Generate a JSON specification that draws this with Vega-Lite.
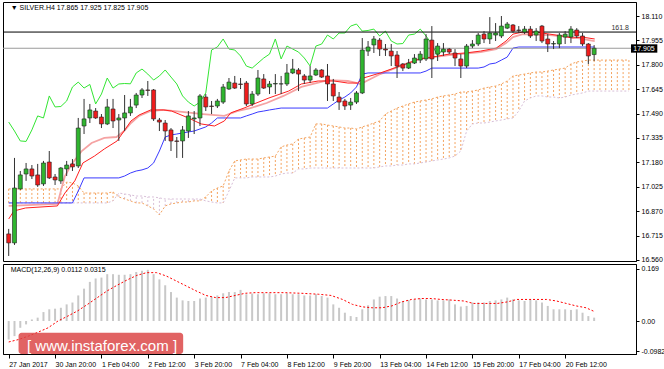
{
"$schema": "https://vega.github.io/schema/vega-lite/v6.json",
"background": "white",
"padding": {"left": 2, "top": 1, "right": 0, "bottom": 0},
"spacing": 3,
"bounds": "flush",
"config": {
  "view": {"stroke": "#000", "strokeWidth": 1},
  "font": "Liberation Sans",
  "axis": {"labelFont": "Liberation Sans", "labelFontSize": 7, "labelColor": "#000", "domainColor": "#000", "tickColor": "#000", "grid": false, "labelOverlap": false, "labelFlush": false, "tickCount": 30},
  "axisRight": {"tickSize": 3, "labelPadding": 2, "labelFlush": false, "labelOverlap": false},
  "axisBottom": {"tickSize": 4, "labelPadding": 2, "labelFlush": false, "labelOverlap": false, "labelAlign": "left"}
},
"datasets": {
"candles": [
{"i":0,"o":16.725,"h":16.757,"l":16.585,"c":16.668},
{"i":1,"o":16.668,"h":17.208,"l":16.655,"c":17.017},
{"i":2,"o":17.011,"h":17.125,"l":17.005,"c":17.100},
{"i":3,"o":17.106,"h":17.176,"l":17.062,"c":17.138},
{"i":4,"o":17.138,"h":17.163,"l":17.074,"c":17.093},
{"i":5,"o":17.100,"h":17.170,"l":17.024,"c":17.036},
{"i":6,"o":17.043,"h":17.189,"l":17.030,"c":17.176},
{"i":7,"o":17.182,"h":17.252,"l":17.074,"c":17.081},
{"i":8,"o":17.087,"h":17.106,"l":17.036,"c":17.068},
{"i":9,"o":17.062,"h":17.150,"l":17.043,"c":17.144},
{"i":10,"o":17.138,"h":17.189,"l":17.093,"c":17.163},
{"i":11,"o":17.170,"h":17.201,"l":17.125,"c":17.151},
{"i":12,"o":17.157,"h":17.462,"l":17.144,"c":17.398},
{"i":13,"o":17.411,"h":17.583,"l":17.360,"c":17.456},
{"i":14,"o":17.462,"h":17.551,"l":17.430,"c":17.513},
{"i":15,"o":17.506,"h":17.525,"l":17.456,"c":17.462},
{"i":16,"o":17.468,"h":17.487,"l":17.398,"c":17.424},
{"i":17,"o":17.424,"h":17.583,"l":17.417,"c":17.532},
{"i":18,"o":17.519,"h":17.583,"l":17.398,"c":17.443},
{"i":19,"o":17.449,"h":17.487,"l":17.316,"c":17.462},
{"i":20,"o":17.462,"h":17.608,"l":17.379,"c":17.494},
{"i":21,"o":17.494,"h":17.583,"l":17.475,"c":17.532},
{"i":22,"o":17.544,"h":17.621,"l":17.525,"c":17.608},
{"i":23,"o":17.608,"h":17.652,"l":17.589,"c":17.640},
{"i":24,"o":17.640,"h":17.697,"l":17.602,"c":17.637},
{"i":25,"o":17.640,"h":17.646,"l":17.443,"c":17.456},
{"i":26,"o":17.449,"h":17.462,"l":17.379,"c":17.436},
{"i":27,"o":17.430,"h":17.449,"l":17.316,"c":17.379},
{"i":28,"o":17.386,"h":17.398,"l":17.252,"c":17.316},
{"i":29,"o":17.316,"h":17.341,"l":17.208,"c":17.313},
{"i":30,"o":17.316,"h":17.411,"l":17.208,"c":17.386},
{"i":31,"o":17.379,"h":17.506,"l":17.335,"c":17.475},
{"i":32,"o":17.456,"h":17.506,"l":17.360,"c":17.462},
{"i":33,"o":17.462,"h":17.614,"l":17.411,"c":17.602},
{"i":34,"o":17.595,"h":17.614,"l":17.506,"c":17.532},
{"i":35,"o":17.538,"h":17.570,"l":17.487,"c":17.535},
{"i":36,"o":17.538,"h":17.583,"l":17.525,"c":17.570},
{"i":37,"o":17.563,"h":17.678,"l":17.551,"c":17.659},
{"i":38,"o":17.646,"h":17.716,"l":17.640,"c":17.690},
{"i":39,"o":17.684,"h":17.729,"l":17.646,"c":17.652},
{"i":40,"o":17.678,"h":17.716,"l":17.646,"c":17.675},
{"i":41,"o":17.684,"h":17.697,"l":17.538,"c":17.551},
{"i":42,"o":17.551,"h":17.633,"l":17.538,"c":17.614},
{"i":43,"o":17.614,"h":17.767,"l":17.602,"c":17.716},
{"i":44,"o":17.710,"h":17.741,"l":17.646,"c":17.652},
{"i":45,"o":17.659,"h":17.697,"l":17.614,"c":17.678},
{"i":46,"o":17.678,"h":17.741,"l":17.614,"c":17.681},
{"i":47,"o":17.678,"h":17.729,"l":17.614,"c":17.679},
{"i":48,"o":17.678,"h":17.805,"l":17.665,"c":17.748},
{"i":49,"o":17.748,"h":17.837,"l":17.741,"c":17.773},
{"i":50,"o":17.767,"h":17.779,"l":17.633,"c":17.741},
{"i":51,"o":17.729,"h":17.741,"l":17.678,"c":17.703},
{"i":52,"o":17.703,"h":17.792,"l":17.684,"c":17.729},
{"i":53,"o":17.735,"h":17.779,"l":17.729,"c":17.767},
{"i":54,"o":17.767,"h":17.773,"l":17.716,"c":17.722},
{"i":55,"o":17.729,"h":17.805,"l":17.570,"c":17.678},
{"i":56,"o":17.678,"h":17.710,"l":17.570,"c":17.602},
{"i":57,"o":17.595,"h":17.627,"l":17.513,"c":17.563},
{"i":58,"o":17.570,"h":17.583,"l":17.513,"c":17.538},
{"i":59,"o":17.544,"h":17.589,"l":17.513,"c":17.563},
{"i":60,"o":17.563,"h":17.633,"l":17.551,"c":17.621},
{"i":61,"o":17.621,"h":17.970,"l":17.614,"c":17.894},
{"i":62,"o":17.887,"h":17.951,"l":17.856,"c":17.913},
{"i":63,"o":17.926,"h":17.983,"l":17.875,"c":17.964},
{"i":64,"o":17.957,"h":17.970,"l":17.856,"c":17.900},
{"i":65,"o":17.900,"h":17.932,"l":17.856,"c":17.894},
{"i":66,"o":17.887,"h":17.932,"l":17.792,"c":17.856},
{"i":67,"o":17.862,"h":17.887,"l":17.716,"c":17.792},
{"i":68,"o":17.805,"h":17.811,"l":17.760,"c":17.779},
{"i":69,"o":17.779,"h":17.837,"l":17.773,"c":17.811},
{"i":70,"o":17.811,"h":17.868,"l":17.805,"c":17.843},
{"i":71,"o":17.830,"h":17.887,"l":17.811,"c":17.868},
{"i":72,"o":17.837,"h":17.995,"l":17.824,"c":17.964},
{"i":73,"o":17.957,"h":18.046,"l":17.716,"c":17.837},
{"i":74,"o":17.868,"h":17.938,"l":17.824,"c":17.919},
{"i":75,"o":17.881,"h":17.938,"l":17.856,"c":17.900},
{"i":76,"o":17.900,"h":17.906,"l":17.868,"c":17.881},
{"i":77,"o":17.875,"h":17.900,"l":17.792,"c":17.843},
{"i":78,"o":17.837,"h":17.868,"l":17.716,"c":17.792},
{"i":79,"o":17.792,"h":17.932,"l":17.779,"c":17.919},
{"i":80,"o":17.919,"h":17.957,"l":17.906,"c":17.932},
{"i":81,"o":17.932,"h":18.002,"l":17.919,"c":17.989},
{"i":82,"o":17.995,"h":18.014,"l":17.938,"c":17.964},
{"i":83,"o":17.964,"h":18.103,"l":17.932,"c":18.002},
{"i":84,"o":17.989,"h":18.065,"l":17.951,"c":18.002},
{"i":85,"o":17.983,"h":18.110,"l":17.970,"c":18.046},
{"i":86,"o":18.033,"h":18.072,"l":18.027,"c":18.059},
{"i":87,"o":18.053,"h":18.059,"l":18.002,"c":18.014},
{"i":88,"o":18.021,"h":18.046,"l":18.002,"c":18.018},
{"i":89,"o":18.008,"h":18.046,"l":17.995,"c":18.027},
{"i":90,"o":18.027,"h":18.046,"l":17.970,"c":17.983},
{"i":91,"o":17.989,"h":18.033,"l":17.951,"c":18.014},
{"i":92,"o":18.046,"h":18.053,"l":17.938,"c":17.951},
{"i":93,"o":17.964,"h":17.995,"l":17.881,"c":17.932},
{"i":94,"o":17.932,"h":17.951,"l":17.900,"c":17.935},
{"i":95,"o":17.932,"h":18.002,"l":17.906,"c":17.989},
{"i":96,"o":17.976,"h":18.014,"l":17.932,"c":17.995},
{"i":97,"o":17.976,"h":18.046,"l":17.938,"c":18.027},
{"i":98,"o":18.021,"h":18.033,"l":17.970,"c":17.983},
{"i":99,"o":17.983,"h":18.002,"l":17.919,"c":17.932},
{"i":100,"o":17.932,"h":17.938,"l":17.805,"c":17.856},
{"i":101,"o":17.865,"h":17.925,"l":17.825,"c":17.905}
],
"cloud": [
{"i":0,"a":17.011,"b":16.922},{"i":1,"a":17.011,"b":16.922},{"i":2,"a":17.011,"b":16.922},{"i":3,"a":17.011,"b":16.922},
{"i":4,"a":17.011,"b":16.922},{"i":5,"a":17.011,"b":16.922},{"i":6,"a":17.011,"b":16.922},{"i":7,"a":17.011,"b":16.922},
{"i":8,"a":17.011,"b":16.922},{"i":9,"a":17.011,"b":16.922},{"i":10,"a":17.055,"b":16.922},{"i":11,"a":17.049,"b":16.922},
{"i":12,"a":17.030,"b":16.922},{"i":13,"a":16.985,"b":16.922},{"i":14,"a":16.985,"b":16.922},{"i":15,"a":16.985,"b":16.922},
{"i":16,"a":16.985,"b":16.922},{"i":17,"a":16.985,"b":16.922},{"i":18,"a":16.992,"b":16.935},{"i":19,"a":16.960,"b":16.985},
{"i":20,"a":16.947,"b":16.979},{"i":21,"a":16.935,"b":16.973},{"i":22,"a":16.922,"b":16.966},{"i":23,"a":16.922,"b":16.966},
{"i":24,"a":16.903,"b":16.960},{"i":25,"a":16.884,"b":16.960},{"i":26,"a":16.846,"b":16.954},{"i":27,"a":16.903,"b":16.947},
{"i":28,"a":16.916,"b":16.947},{"i":29,"a":16.922,"b":16.947},{"i":30,"a":16.928,"b":16.947},{"i":31,"a":16.928,"b":16.947},
{"i":32,"a":16.935,"b":16.947},{"i":33,"a":16.935,"b":16.947},{"i":34,"a":16.960,"b":16.935},{"i":35,"a":16.998,"b":16.928},
{"i":36,"a":17.017,"b":16.922},{"i":37,"a":17.030,"b":16.922},{"i":38,"a":17.125,"b":16.998},{"i":39,"a":17.189,"b":17.081},
{"i":40,"a":17.195,"b":17.081},{"i":41,"a":17.201,"b":17.081},{"i":42,"a":17.201,"b":17.087},{"i":43,"a":17.201,"b":17.087},
{"i":44,"a":17.208,"b":17.087},{"i":45,"a":17.214,"b":17.087},{"i":46,"a":17.220,"b":17.093},{"i":47,"a":17.278,"b":17.106},
{"i":48,"a":17.290,"b":17.112},{"i":49,"a":17.297,"b":17.112},{"i":50,"a":17.328,"b":17.138},{"i":51,"a":17.335,"b":17.138},
{"i":52,"a":17.341,"b":17.144},{"i":53,"a":17.424,"b":17.144},{"i":54,"a":17.424,"b":17.144},{"i":55,"a":17.417,"b":17.144},
{"i":56,"a":17.411,"b":17.144},{"i":57,"a":17.405,"b":17.144},{"i":58,"a":17.398,"b":17.144},{"i":59,"a":17.398,"b":17.144},
{"i":60,"a":17.392,"b":17.144},{"i":61,"a":17.405,"b":17.144},{"i":62,"a":17.417,"b":17.144},{"i":63,"a":17.430,"b":17.144},
{"i":64,"a":17.443,"b":17.151},{"i":65,"a":17.487,"b":17.157},{"i":66,"a":17.506,"b":17.157},{"i":67,"a":17.525,"b":17.163},
{"i":68,"a":17.538,"b":17.163},{"i":69,"a":17.551,"b":17.170},{"i":70,"a":17.563,"b":17.170},{"i":71,"a":17.570,"b":17.176},
{"i":72,"a":17.576,"b":17.182},{"i":73,"a":17.583,"b":17.189},{"i":74,"a":17.595,"b":17.195},{"i":75,"a":17.602,"b":17.201},
{"i":76,"a":17.608,"b":17.208},{"i":77,"a":17.614,"b":17.220},{"i":78,"a":17.627,"b":17.252},{"i":79,"a":17.627,"b":17.379},
{"i":80,"a":17.633,"b":17.424},{"i":81,"a":17.640,"b":17.430},{"i":82,"a":17.652,"b":17.430},{"i":83,"a":17.659,"b":17.436},
{"i":84,"a":17.665,"b":17.443},{"i":85,"a":17.678,"b":17.449},{"i":86,"a":17.697,"b":17.456},{"i":87,"a":17.729,"b":17.462},
{"i":88,"a":17.735,"b":17.506},{"i":89,"a":17.741,"b":17.570},{"i":90,"a":17.748,"b":17.589},{"i":91,"a":17.754,"b":17.602},
{"i":92,"a":17.754,"b":17.602},{"i":93,"a":17.760,"b":17.595},{"i":94,"a":17.767,"b":17.595},{"i":95,"a":17.773,"b":17.589},
{"i":96,"a":17.779,"b":17.595},{"i":97,"a":17.805,"b":17.608},{"i":98,"a":17.818,"b":17.614},{"i":99,"a":17.824,"b":17.621},
{"i":100,"a":17.830,"b":17.633},{"i":101,"a":17.830,"b":17.633},{"i":102,"a":17.830,"b":17.633},{"i":103,"a":17.830,"b":17.633},
{"i":104,"a":17.830,"b":17.633},{"i":105,"a":17.830,"b":17.633},{"i":106,"a":17.830,"b":17.633},{"i":107,"a":17.830,"b":17.633}
],
"kijun": [
{"i":0,"v":16.922},{"i":11,"v":16.922},{"i":12,"v":16.998},{"i":13,"v":17.081},{"i":19,"v":17.081},{"i":20,"v":17.093},
{"i":21,"v":17.112},{"i":22,"v":17.125},{"i":23,"v":17.132},{"i":24,"v":17.144},{"i":25,"v":17.176},{"i":26,"v":17.252},
{"i":27,"v":17.341},{"i":28,"v":17.354},{"i":29,"v":17.360},{"i":30,"v":17.367},{"i":31,"v":17.373},{"i":32,"v":17.379},
{"i":33,"v":17.392},{"i":34,"v":17.405},{"i":35,"v":17.430},{"i":36,"v":17.462},{"i":40,"v":17.462},{"i":41,"v":17.475},
{"i":42,"v":17.487},{"i":43,"v":17.500},{"i":44,"v":17.506},{"i":45,"v":17.513},{"i":46,"v":17.519},{"i":47,"v":17.525},
{"i":55,"v":17.525},{"i":56,"v":17.551},{"i":57,"v":17.576},{"i":58,"v":17.595},{"i":59,"v":17.621},{"i":60,"v":17.659},
{"i":61,"v":17.741},{"i":62,"v":17.748},{"i":71,"v":17.748},{"i":72,"v":17.760},{"i":73,"v":17.779},{"i":81,"v":17.779},
{"i":82,"v":17.786},{"i":83,"v":17.805},{"i":84,"v":17.811},{"i":85,"v":17.830},{"i":86,"v":17.849},{"i":87,"v":17.906},
{"i":88,"v":17.913},{"i":101,"v":17.913}
],
"tenkan": [
{"i":0,"v":16.820},{"i":0.9,"v":16.871},{"i":2.9,"v":16.890},{"i":8.4,"v":16.903},{"i":9.7,"v":16.985},{"i":11.4,"v":17.062},
{"i":12.8,"v":17.176},{"i":14.8,"v":17.220},{"i":16.5,"v":17.265},{"i":18.7,"v":17.316},{"i":19.9,"v":17.379},{"i":21.1,"v":17.443},
{"i":22.5,"v":17.481},{"i":24.5,"v":17.513},{"i":26.7,"v":17.513},{"i":28.1,"v":17.506},{"i":31.0,"v":17.462},{"i":33.2,"v":17.424},
{"i":35.5,"v":17.411},{"i":37.2,"v":17.443},{"i":38.3,"v":17.494},{"i":40.6,"v":17.525},{"i":42.3,"v":17.551},{"i":44.9,"v":17.589},
{"i":48.3,"v":17.633},{"i":50.5,"v":17.678},{"i":53.4,"v":17.697},{"i":56.1,"v":17.697},{"i":58.5,"v":17.684},{"i":60.2,"v":17.684},
{"i":61.2,"v":17.716},{"i":64.1,"v":17.748},{"i":67.5,"v":17.792},{"i":70.9,"v":17.837},{"i":73.1,"v":17.849},{"i":76.0,"v":17.868},
{"i":78.8,"v":17.875},{"i":81.4,"v":17.887},{"i":84.1,"v":17.906},{"i":85.8,"v":17.951},{"i":87.0,"v":17.995},{"i":88.7,"v":18.008},
{"i":90.9,"v":18.008},{"i":93.3,"v":17.995},{"i":95.5,"v":17.983},{"i":97.2,"v":17.970},{"i":98.9,"v":17.976},{"i":101.1,"v":17.964}
],
"ma": [
{"i":0,"v":16.903},{"i":8.4,"v":16.916},{"i":9.7,"v":17.093},{"i":10.9,"v":17.170},{"i":12.6,"v":17.252},{"i":14.3,"v":17.303},
{"i":16.5,"v":17.335},{"i":18.6,"v":17.341},{"i":19.9,"v":17.379},{"i":21.1,"v":17.430},{"i":22.5,"v":17.475},{"i":24.5,"v":17.506},
{"i":26.7,"v":17.513},{"i":33.5,"v":17.487},{"i":37.2,"v":17.475},{"i":39.4,"v":17.506},{"i":41.7,"v":17.525},{"i":44.5,"v":17.557},
{"i":47.4,"v":17.602},{"i":50.5,"v":17.659},{"i":55.1,"v":17.703},{"i":58.5,"v":17.697},{"i":60.7,"v":17.678},{"i":64.1,"v":17.741},
{"i":67.5,"v":17.792},{"i":70.9,"v":17.837},{"i":76.0,"v":17.862},{"i":81.4,"v":17.881},{"i":84.1,"v":17.900},{"i":85.8,"v":17.938},
{"i":87.0,"v":17.976},{"i":88.7,"v":17.995},{"i":93.3,"v":17.989},{"i":97.2,"v":17.976},{"i":101.1,"v":17.951}
],
"chikou": [
{"i":0,"v":17.436},{"i":1,"v":17.379},{"i":2,"v":17.316},{"i":3,"v":17.313},{"i":4,"v":17.386},{"i":5,"v":17.475},
{"i":6,"v":17.462},{"i":7,"v":17.602},{"i":8,"v":17.532},{"i":9,"v":17.535},{"i":10,"v":17.570},{"i":11,"v":17.659},
{"i":12,"v":17.690},{"i":13,"v":17.652},{"i":14,"v":17.675},{"i":15,"v":17.551},{"i":16,"v":17.614},{"i":17,"v":17.716},
{"i":18,"v":17.652},{"i":19,"v":17.678},{"i":20,"v":17.681},{"i":21,"v":17.679},{"i":22,"v":17.748},{"i":23,"v":17.773},
{"i":24,"v":17.741},{"i":25,"v":17.703},{"i":26,"v":17.729},{"i":27,"v":17.767},{"i":28,"v":17.722},{"i":29,"v":17.678},
{"i":30,"v":17.602},{"i":31,"v":17.563},{"i":32,"v":17.538},{"i":33,"v":17.563},{"i":34,"v":17.621},{"i":35,"v":17.894},
{"i":36,"v":17.913},{"i":37,"v":17.964},{"i":38,"v":17.900},{"i":39,"v":17.894},{"i":40,"v":17.856},{"i":41,"v":17.792},
{"i":42,"v":17.779},{"i":43,"v":17.811},{"i":44,"v":17.843},{"i":45,"v":17.868},{"i":46,"v":17.964},{"i":47,"v":17.837},
{"i":48,"v":17.919},{"i":49,"v":17.900},{"i":50,"v":17.881},{"i":51,"v":17.843},{"i":52,"v":17.792},{"i":53,"v":17.919},
{"i":54,"v":17.932},{"i":55,"v":17.989},{"i":56,"v":17.964},{"i":57,"v":18.002},{"i":58,"v":18.002},{"i":59,"v":18.046},
{"i":60,"v":18.059},{"i":61,"v":18.014},{"i":62,"v":18.018},{"i":63,"v":18.027},{"i":64,"v":17.983},{"i":65,"v":18.014},
{"i":66,"v":17.951},{"i":67,"v":17.932},{"i":68,"v":17.935},{"i":69,"v":17.989},{"i":70,"v":17.995},{"i":71,"v":18.027},
{"i":72,"v":17.983},{"i":73,"v":17.932},{"i":74,"v":17.856},{"i":75,"v":17.905}
],
"levels": [{"v":18.008,"kind":"fibo"},{"v":17.905,"kind":"price"}],
"macd": [
{"i":0,"m":-0.060},{"i":1,"m":-0.049},{"i":2,"m":-0.022},{"i":3,"m":-0.011},{"i":4,"m":0.005},{"i":5,"m":0.011},
{"i":6,"m":0.029},{"i":7,"m":0.038},{"i":8,"m":0.040},{"i":9,"m":0.043},{"i":10,"m":0.054},{"i":11,"m":0.060},
{"i":12,"m":0.083},{"i":13,"m":0.105},{"i":14,"m":0.127},{"i":15,"m":0.138},{"i":16,"m":0.141},{"i":17,"m":0.152},
{"i":18,"m":0.152},{"i":19,"m":0.150},{"i":20,"m":0.150},{"i":21,"m":0.152},{"i":22,"m":0.159},{"i":23,"m":0.163},
{"i":24,"m":0.166},{"i":25,"m":0.152},{"i":26,"m":0.135},{"i":27,"m":0.116},{"i":28,"m":0.094},{"i":29,"m":0.076},
{"i":30,"m":0.067},{"i":31,"m":0.065},{"i":32,"m":0.065},{"i":33,"m":0.073},{"i":34,"m":0.076},{"i":35,"m":0.079},
{"i":36,"m":0.083},{"i":37,"m":0.090},{"i":38,"m":0.094},{"i":39,"m":0.094},{"i":40,"m":0.101},{"i":41,"m":0.087},
{"i":42,"m":0.089},{"i":43,"m":0.087},{"i":44,"m":0.090},{"i":45,"m":0.090},{"i":46,"m":0.087},{"i":47,"m":0.087},
{"i":48,"m":0.090},{"i":49,"m":0.087},{"i":50,"m":0.087},{"i":51,"m":0.083},{"i":52,"m":0.083},{"i":53,"m":0.087},
{"i":54,"m":0.081},{"i":55,"m":0.076},{"i":56,"m":0.054},{"i":57,"m":0.043},{"i":58,"m":0.027},{"i":59,"m":0.016},
{"i":60,"m":0.013},{"i":61,"m":0.038},{"i":62,"m":0.051},{"i":63,"m":0.070},{"i":64,"m":0.079},{"i":65,"m":0.081},
{"i":66,"m":0.081},{"i":67,"m":0.073},{"i":68,"m":0.065},{"i":69,"m":0.068},{"i":70,"m":0.070},{"i":71,"m":0.073},
{"i":72,"m":0.070},{"i":73,"m":0.070},{"i":74,"m":0.067},{"i":75,"m":0.067},{"i":76,"m":0.070},{"i":77,"m":0.054},
{"i":78,"m":0.047},{"i":79,"m":0.049},{"i":80,"m":0.060},{"i":81,"m":0.060},{"i":82,"m":0.060},{"i":83,"m":0.065},
{"i":84,"m":0.067},{"i":85,"m":0.070},{"i":86,"m":0.076},{"i":87,"m":0.070},{"i":88,"m":0.067},{"i":89,"m":0.065},
{"i":90,"m":0.070},{"i":91,"m":0.067},{"i":92,"m":0.060},{"i":93,"m":0.049},{"i":94,"m":0.038},{"i":95,"m":0.038},
{"i":96,"m":0.038},{"i":97,"m":0.036},{"i":98,"m":0.038},{"i":99,"m":0.027},{"i":100,"m":0.016},{"i":101,"m":0.011}
],
"signal": [
{"i":0,"v":-0.068},{"i":1.7,"v":-0.060},{"i":3.4,"v":-0.049},{"i":5.1,"v":-0.036},{"i":6.8,"v":-0.022},{"i":8.5,"v":0.0},
{"i":10.2,"v":0.016},{"i":11.9,"v":0.033},{"i":13.6,"v":0.054},{"i":15.3,"v":0.076},{"i":17.0,"v":0.098},{"i":18.7,"v":0.116},
{"i":20.4,"v":0.133},{"i":22.1,"v":0.148},{"i":23.8,"v":0.157},{"i":25.5,"v":0.157},{"i":27.2,"v":0.146},{"i":28.9,"v":0.130},
{"i":30.6,"v":0.114},{"i":32.3,"v":0.098},{"i":34.0,"v":0.083},{"i":35.7,"v":0.076},{"i":37.4,"v":0.076},{"i":39.1,"v":0.083},
{"i":40.8,"v":0.090},{"i":42.5,"v":0.092},{"i":44.9,"v":0.092},{"i":47.6,"v":0.092},{"i":50.5,"v":0.090},{"i":53.4,"v":0.087},
{"i":55.6,"v":0.083},{"i":57.6,"v":0.070},{"i":59.3,"v":0.054},{"i":61.0,"v":0.046},{"i":62.7,"v":0.043},{"i":64.4,"v":0.043},
{"i":66.1,"v":0.049},{"i":67.8,"v":0.062},{"i":69.5,"v":0.070},{"i":71.2,"v":0.073},{"i":72.9,"v":0.073},{"i":74.6,"v":0.070},
{"i":76.3,"v":0.068},{"i":78.5,"v":0.065},{"i":80.2,"v":0.057},{"i":81.9,"v":0.057},{"i":84.3,"v":0.057},{"i":86.0,"v":0.062},
{"i":87.7,"v":0.070},{"i":89.9,"v":0.070},{"i":92.8,"v":0.070},{"i":94.5,"v":0.065},{"i":96.2,"v":0.057},{"i":97.9,"v":0.049},
{"i":99.6,"v":0.043},{"i":100.9,"v":0.032}
]
},
"vconcat": [
{
 "width": 633, "height": 259,
 "layer": [
  {"data": {"name": "cloud"}, "mark": {"type": "rule", "strokeDash": [2, 2], "strokeWidth": 1},
   "encoding": {
    "x": {"field": "i", "type": "quantitative", "scale": {"domain": [-0.12, 107.36], "nice": false, "zero": false}, "axis": null},
    "y": {"field": "a", "type": "quantitative", "scale": {"domain": [16.553, 18.199], "nice": false, "zero": false},
          "axis": {"orient": "right", "title": null, "values": [16.56, 16.715, 16.87, 17.025, 17.18, 17.335, 17.49, 17.645, 17.8, 17.955, 18.11], "format": ".3f", "tickCount": 30, "labelOverlap": false, "labelFlush": false}},
    "y2": {"field": "b"},
    "color": {"condition": {"test": "datum.a >= datum.b", "value": "#f4a460"}, "value": "#d8bfd8"}
   }},
  {"data": {"name": "cloud"}, "mark": {"type": "line", "color": "#f4a460", "strokeDash": [2, 2], "strokeWidth": 1},
   "encoding": {
    "x": {"field": "i", "type": "quantitative", "axis": null},
    "y": {"field": "a", "type": "quantitative", "axis": {"orient": "right", "title": null, "tickCount": 30}}}},
  {"data": {"name": "cloud"}, "mark": {"type": "line", "color": "#d8bfd8", "strokeDash": [2, 2], "strokeWidth": 1},
   "encoding": {
    "x": {"field": "i", "type": "quantitative", "axis": null},
    "y": {"field": "b", "type": "quantitative", "axis": {"orient": "right", "title": null, "tickCount": 30}}}},
  {"data": {"name": "chikou"}, "mark": {"type": "line", "color": "#33e633", "strokeWidth": 1},
   "encoding": {
    "x": {"field": "i", "type": "quantitative", "axis": null},
    "y": {"field": "v", "type": "quantitative", "axis": {"orient": "right", "title": null, "tickCount": 30}}}},
  {"data": {"name": "ma"}, "mark": {"type": "line", "color": "#f5a3a3", "strokeWidth": 1.8},
   "encoding": {
    "x": {"field": "i", "type": "quantitative", "axis": null},
    "y": {"field": "v", "type": "quantitative", "axis": {"orient": "right", "title": null, "tickCount": 30}}}},
  {"data": {"name": "kijun"}, "mark": {"type": "line", "color": "#3a3aff", "strokeWidth": 1},
   "encoding": {
    "x": {"field": "i", "type": "quantitative", "axis": null},
    "y": {"field": "v", "type": "quantitative", "axis": {"orient": "right", "title": null, "tickCount": 30}}}},
  {"data": {"name": "tenkan"}, "mark": {"type": "line", "color": "#ff2020", "strokeWidth": 1},
   "encoding": {
    "x": {"field": "i", "type": "quantitative", "axis": null},
    "y": {"field": "v", "type": "quantitative", "axis": {"orient": "right", "title": null, "tickCount": 30}}}},
  {"data": {"name": "levels"}, "mark": {"type": "rule", "strokeWidth": 1},
   "encoding": {
    "y": {"field": "v", "type": "quantitative", "axis": {"orient": "right", "title": null, "tickCount": 30}},
    "color": {"condition": {"test": "datum.kind == 'fibo'", "value": "#000000"}, "value": "#9a9a9a"}}},
  {"data": {"name": "candles"}, "mark": {"type": "rule", "color": "#333333", "strokeWidth": 1},
   "encoding": {
    "x": {"field": "i", "type": "quantitative", "axis": null},
    "y": {"field": "l", "type": "quantitative", "axis": {"orient": "right", "title": null, "tickCount": 30}},
    "y2": {"field": "h"}}},
  {"data": {"name": "candles"}, "mark": {"type": "bar", "orient": "vertical", "width": 4, "stroke": "#222222", "strokeWidth": 0.6},
   "encoding": {
    "x": {"field": "i", "type": "quantitative", "axis": null},
    "y": {"field": "o", "type": "quantitative", "axis": {"orient": "right", "title": null, "tickCount": 30}},
    "y2": {"field": "c"},
    "fill": {"condition": {"test": "datum.c >= datum.o", "value": "#2fb52f"}, "value": "#f01c1c"}}},
  {"data": {"values": [{"t": "▼ SILVER.H4  17.865 17.925 17.825 17.905"}]},
   "mark": {"type": "text", "align": "left", "baseline": "middle", "fontSize": 7, "font": "Liberation Sans", "color": "#000"},
   "encoding": {
    "x": {"datum": 0.35, "type": "quantitative", "axis": null},
    "y": {"datum": 18.161, "type": "quantitative", "axis": {"orient": "right", "title": null, "tickCount": 30}},
    "text": {"field": "t"}}},
  {"data": {"values": [{"t": "161.8"}]},
   "mark": {"type": "text", "align": "right", "baseline": "middle", "fontSize": 7, "font": "Liberation Sans", "color": "#333"},
   "encoding": {
    "x": {"datum": 107.0, "type": "quantitative", "axis": null},
    "y": {"datum": 18.035, "type": "quantitative", "axis": {"orient": "right", "title": null, "tickCount": 30}},
    "text": {"field": "t"}}},
  {"data": {"values": [{"t": "17.905"}]},
   "mark": {"type": "rect", "color": "#000000"},
   "encoding": {
    "x": {"datum": 107.36, "type": "quantitative", "axis": null},
    "x2": {"datum": 111.9},
    "y": {"datum": 17.930, "type": "quantitative", "axis": {"orient": "right", "title": null, "tickCount": 30}},
    "y2": {"datum": 17.877}}},
  {"data": {"values": [{"t": "17.905"}]},
   "mark": {"type": "text", "align": "left", "baseline": "middle", "fontSize": 7, "font": "Liberation Sans", "color": "#ffffff"},
   "encoding": {
    "x": {"datum": 107.75, "type": "quantitative", "axis": null},
    "y": {"datum": 17.903, "type": "quantitative", "axis": {"orient": "right", "title": null, "tickCount": 30}},
    "text": {"field": "t"}}}
 ]
},
{
 "width": 633, "height": 90,
 "layer": [
  {"data": {"name": "macd"}, "mark": {"type": "bar", "orient": "vertical", "width": 2, "color": "#c8c8c8"},
   "encoding": {
    "x": {"field": "i", "type": "quantitative", "scale": {"domain": [-0.12, 107.36], "nice": false, "zero": false},
          "axis": {"orient": "bottom", "title": null, "values": [0, 8, 16, 24, 32, 40, 48, 56, 64, 72, 80, 88, 96], "tickCount": 30, "labelOverlap": false,
                   "labelExpr": "['27 Jan 2017','30 Jan 20:00','1 Feb 04:00','2 Feb 12:00','3 Feb 20:00','7 Feb 04:00','8 Feb 12:00','9 Feb 20:00','13 Feb 04:00','14 Feb 12:00','15 Feb 20:00','17 Feb 04:00','20 Feb 12:00'][round(datum.value/8)]"}},
    "y": {"field": "m", "type": "quantitative", "scale": {"domain": [-0.107, 0.185], "nice": false, "zero": false},
          "axis": {"orient": "right", "title": null, "values": [0.169, 0, -0.0982], "tickCount": 30, "labelOverlap": false,
                   "labelExpr": "datum.value == 0 ? '0.00' : (datum.value > 0 ? '0.169' : '-0.0982')"}},
    "y2": {"datum": 0}}},
  {"data": {"name": "signal"}, "mark": {"type": "line", "color": "#ff0000", "strokeDash": [2, 2], "strokeWidth": 1},
   "encoding": {
    "x": {"field": "i", "type": "quantitative", "axis": {"orient": "bottom", "title": null, "tickCount": 30}},
    "y": {"field": "v", "type": "quantitative", "axis": {"orient": "right", "title": null, "tickCount": 30}}}},
  {"data": {"values": [{"t": "[  www.instaforex.com  ]"}]},
   "mark": {"type": "rect", "color": "#dc4848", "opacity": 0.85, "cornerRadius": 3},
   "encoding": {
    "x": {"datum": 1.7, "type": "quantitative", "axis": {"orient": "bottom", "title": null, "tickCount": 30}},
    "x2": {"datum": 30.1},
    "y": {"datum": -0.038, "type": "quantitative", "axis": {"orient": "right", "title": null, "tickCount": 30}},
    "y2": {"datum": -0.107}}},
  {"data": {"values": [{"t": "[  www.instaforex.com  ]"}]},
   "mark": {"type": "text", "align": "center", "baseline": "middle", "fontSize": 15, "font": "Liberation Sans", "color": "#ffffff"},
   "encoding": {
    "x": {"datum": 16.1, "type": "quantitative", "axis": {"orient": "bottom", "title": null, "tickCount": 30}},
    "y": {"datum": -0.08, "type": "quantitative", "axis": {"orient": "right", "title": null, "tickCount": 30}},
    "text": {"field": "t"}}},
  {"data": {"values": [{"t": "MACD(12,26,9) 0.0112 0.0315"}]},
   "mark": {"type": "text", "align": "left", "baseline": "middle", "fontSize": 7, "font": "Liberation Sans", "color": "#000"},
   "encoding": {
    "x": {"datum": 0.35, "type": "quantitative", "axis": {"orient": "bottom", "title": null, "tickCount": 30}},
    "y": {"datum": 0.165, "type": "quantitative", "axis": {"orient": "right", "title": null, "tickCount": 30}},
    "text": {"field": "t"}}}
 ]
}
]
}
